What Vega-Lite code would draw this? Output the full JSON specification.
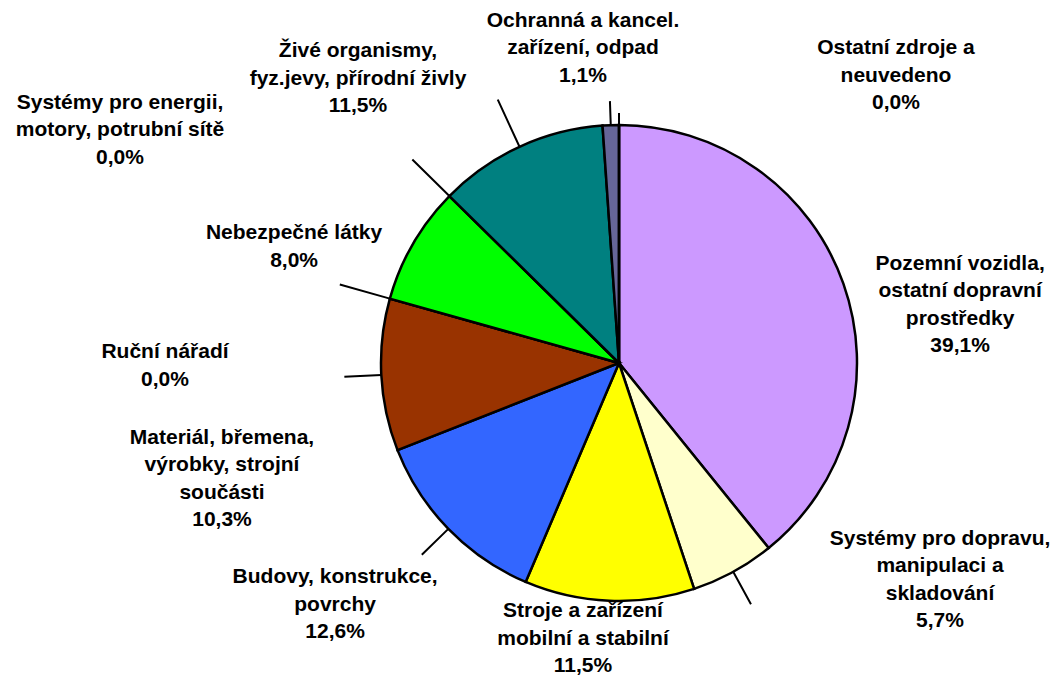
{
  "$schema": "https://vega.github.io/schema/vega-lite/v6.json",
  "width": 868,
  "height": 628,
  "autosize": {"type": "none"},
  "padding": {"left": 185, "top": 49, "right": 0, "bottom": 0},
  "background": "white",
  "data": {
    "values": [
      {"poradi": 1, "zdroj": "Pozemní vozidla, ostatní dopravní prostředky", "podil": 39.1, "popisek": "Pozemní vozidla,\nostatní dopravní\nprostředky\n39,1%"},
      {"poradi": 2, "zdroj": "Systémy pro dopravu, manipulaci a skladování", "podil": 5.7, "popisek": "Systémy pro dopravu,\nmanipulaci a\nskladování\n5,7%"},
      {"poradi": 3, "zdroj": "Stroje a zařízení mobilní a stabilní", "podil": 11.5, "popisek": "Stroje a zařízení\nmobilní a stabilní\n11,5%"},
      {"poradi": 4, "zdroj": "Budovy, konstrukce, povrchy", "podil": 12.6, "popisek": "Budovy, konstrukce,\npovrchy\n12,6%"},
      {"poradi": 5, "zdroj": "Materiál, břemena, výrobky, strojní součásti", "podil": 10.3, "popisek": "Materiál, břemena,\nvýrobky, strojní\nsoučásti\n10,3%"},
      {"poradi": 6, "zdroj": "Ruční nářadí", "podil": 0.0, "popisek": "Ruční nářadí\n0,0%"},
      {"poradi": 7, "zdroj": "Nebezpečné látky", "podil": 8.0, "popisek": "Nebezpečné látky\n8,0%"},
      {"poradi": 8, "zdroj": "Systémy pro energii, motory, potrubní sítě", "podil": 0.0, "popisek": "Systémy pro energii,\nmotory, potrubní sítě\n0,0%"},
      {"poradi": 9, "zdroj": "Živé organismy, fyz.jevy, přírodní živly", "podil": 11.5, "popisek": "Živé organismy,\nfyz.jevy, přírodní živly\n11,5%"},
      {"poradi": 10, "zdroj": "Ochranná a kancel. zařízení, odpad", "podil": 1.1, "popisek": "Ochranná a kancel.\nzařízení, odpad\n1,1%"},
      {"poradi": 11, "zdroj": "Ostatní zdroje a neuvedeno", "podil": 0.0, "popisek": "Ostatní zdroje a\nneuvedeno\n0,0%"}
    ]
  },
  "encoding": {
    "theta": {"field": "podil", "type": "quantitative", "stack": true},
    "order": {"field": "poradi", "type": "quantitative"},
    "detail": {"field": "zdroj", "type": "nominal"}
  },
  "layer": [
    {
      "mark": {"type": "arc", "radius": 238, "stroke": "black", "strokeWidth": 2.5},
      "encoding": {
        "color": {
          "field": "zdroj", "type": "nominal", "legend": null,
          "scale": {
            "domain": ["Pozemní vozidla, ostatní dopravní prostředky", "Systémy pro dopravu, manipulaci a skladování", "Stroje a zařízení mobilní a stabilní", "Budovy, konstrukce, povrchy", "Materiál, břemena, výrobky, strojní součásti", "Ruční nářadí", "Nebezpečné látky", "Systémy pro energii, motory, potrubní sítě", "Živé organismy, fyz.jevy, přírodní živly", "Ochranná a kancel. zařízení, odpad", "Ostatní zdroje a neuvedeno"],
            "range": ["#CC99FF", "#FFFFCC", "#FFFF00", "#3366FF", "#993300", "#FF9900", "#00FF00", "#FF0000", "#008080", "#666699", "#C0C0C0"]
          }
        }
      }
    },
    {"mark": {"type": "arc", "innerRadius": 238, "outerRadius": 275, "padAngle": 1.2, "fillOpacity": 0, "stroke": "black", "strokeWidth": 2},
     "encoding": {"strokeOpacity": {"condition": {"test": "datum.poradi === 2 || datum.poradi === 4 || datum.poradi === 5", "value": 1}, "value": 0}}},
    {"mark": {"type": "arc", "innerRadius": 238, "outerRadius": 290, "padAngle": 1.2, "fillOpacity": 0, "stroke": "black", "strokeWidth": 2},
     "encoding": {"strokeOpacity": {"condition": {"test": "datum.poradi === 6 || datum.poradi === 8 || datum.poradi === 9", "value": 1}, "value": 0}}},
    {"mark": {"type": "arc", "innerRadius": 238, "outerRadius": 262, "padAngle": 1.2, "fillOpacity": 0, "stroke": "black", "strokeWidth": 2},
     "encoding": {"strokeOpacity": {"condition": {"test": "datum.poradi === 10", "value": 1}, "value": 0}}},
    {"mark": {"type": "arc", "innerRadius": 238, "outerRadius": 250, "padAngle": 1.2, "fillOpacity": 0, "stroke": "black", "strokeWidth": 2},
     "encoding": {"strokeOpacity": {"condition": {"test": "datum.poradi === 11", "value": 1}, "value": 0}}},
    {"mark": {"type": "text", "radius": 346, "thetaOffset": 0.1716, "dy": -41.25, "font": "Liberation Sans", "fontWeight": "bold", "fontSize": 21, "lineHeight": 27.5, "lineBreak": "\n", "align": "center", "baseline": "middle", "color": "black"},
     "encoding": {"text": {"condition": {"test": "datum.poradi === 1", "field": "popisek"}, "value": ""}}},
    {"mark": {"type": "text", "radius": 387.5, "thetaOffset": -0.4758, "dy": -41.25, "font": "Liberation Sans", "fontWeight": "bold", "fontSize": 21, "lineHeight": 27.5, "lineBreak": "\n", "align": "center", "baseline": "middle", "color": "black"},
     "encoding": {"text": {"condition": {"test": "datum.poradi === 2", "field": "popisek"}, "value": ""}}},
    {"mark": {"type": "text", "radius": 278.3, "thetaOffset": 0.0888, "dy": -27.5, "font": "Liberation Sans", "fontWeight": "bold", "fontSize": 21, "lineHeight": 27.5, "lineBreak": "\n", "align": "center", "baseline": "middle", "color": "black"},
     "encoding": {"text": {"condition": {"test": "datum.poradi === 3", "field": "popisek"}, "value": ""}}},
    {"mark": {"type": "text", "radius": 373, "thetaOffset": 0.0654, "dy": -27.5, "font": "Liberation Sans", "fontWeight": "bold", "fontSize": 21, "lineHeight": 27.5, "lineBreak": "\n", "align": "center", "baseline": "middle", "color": "black"},
     "encoding": {"text": {"condition": {"test": "datum.poradi === 4", "field": "popisek"}, "value": ""}}},
    {"mark": {"type": "text", "radius": 413.6, "thetaOffset": -0.2339, "dy": -41.25, "font": "Liberation Sans", "fontWeight": "bold", "fontSize": 21, "lineHeight": 27.5, "lineBreak": "\n", "align": "center", "baseline": "middle", "color": "black"},
     "encoding": {"text": {"condition": {"test": "datum.poradi === 5", "field": "popisek"}, "value": ""}}},
    {"mark": {"type": "text", "radius": 454, "thetaOffset": -0.2805, "dy": -13.75, "font": "Liberation Sans", "fontWeight": "bold", "fontSize": 21, "lineHeight": 27.5, "lineBreak": "\n", "align": "center", "baseline": "middle", "color": "black"},
     "encoding": {"text": {"condition": {"test": "datum.poradi === 6", "field": "popisek"}, "value": ""}}},
    {"mark": {"type": "text", "radius": 345, "thetaOffset": -0.1829, "dy": -13.75, "font": "Liberation Sans", "fontWeight": "bold", "fontSize": 21, "lineHeight": 27.5, "lineBreak": "\n", "align": "center", "baseline": "middle", "color": "black"},
     "encoding": {"text": {"condition": {"test": "datum.poradi === 7", "field": "popisek"}, "value": ""}}},
    {"mark": {"type": "text", "radius": 550.7, "thetaOffset": -0.3407, "dy": -27.5, "font": "Liberation Sans", "fontWeight": "bold", "fontSize": 21, "lineHeight": 27.5, "lineBreak": "\n", "align": "center", "baseline": "middle", "color": "black"},
     "encoding": {"text": {"condition": {"test": "datum.poradi === 8", "field": "popisek"}, "value": ""}}},
    {"mark": {"type": "text", "radius": 385.7, "thetaOffset": -0.3119, "dy": -27.5, "font": "Liberation Sans", "fontWeight": "bold", "fontSize": 21, "lineHeight": 27.5, "lineBreak": "\n", "align": "center", "baseline": "middle", "color": "black"},
     "encoding": {"text": {"condition": {"test": "datum.poradi === 9", "field": "popisek"}, "value": ""}}},
    {"mark": {"type": "text", "radius": 317, "thetaOffset": -0.0792, "dy": -27.5, "font": "Liberation Sans", "fontWeight": "bold", "fontSize": 21, "lineHeight": 27.5, "lineBreak": "\n", "align": "center", "baseline": "middle", "color": "black"},
     "encoding": {"text": {"condition": {"test": "datum.poradi === 10", "field": "popisek"}, "value": ""}}},
    {"mark": {"type": "text", "radius": 398.9, "thetaOffset": 0.7676, "dy": -27.5, "font": "Liberation Sans", "fontWeight": "bold", "fontSize": 21, "lineHeight": 27.5, "lineBreak": "\n", "align": "center", "baseline": "middle", "color": "black"},
     "encoding": {"text": {"condition": {"test": "datum.poradi === 11", "field": "popisek"}, "value": ""}}}
  ],
  "config": {"view": {"stroke": null}}
}
